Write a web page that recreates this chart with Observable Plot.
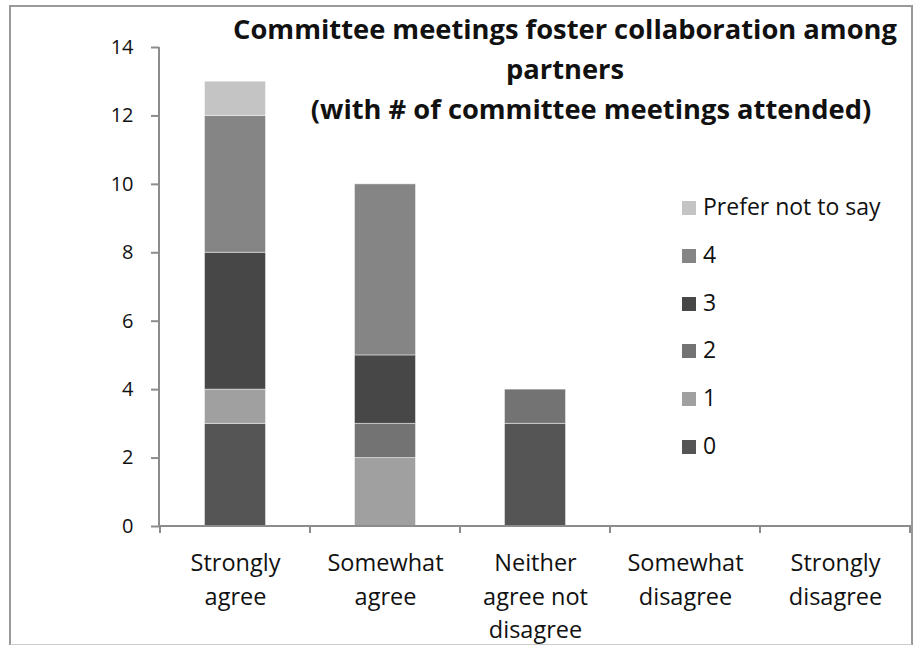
<!DOCTYPE html>
<html>
<head>
<meta charset="utf-8">
<script src="https://cdn.jsdelivr.net/npm/d3@7"></script>
<script src="https://cdn.jsdelivr.net/npm/@observablehq/plot@0.6"></script>
<style>
  html, body { margin: 0; padding: 0; background: #fff; }
  #wrap { position: relative; width: 916px; height: 645px; overflow: hidden; font-family: "Open Sans", sans-serif; }
  #frame { position: absolute; left: 9px; top: 5px; width: 900px; height: 637px; border: 2px solid #999; border-bottom-color: #ccc; box-sizing: content-box; pointer-events: none; }
  #title { position: absolute; left: 0; top: 9px; width: 916px; font-weight: bold; font-size: 27.3px; color: #111; line-height: 40px; }
  #title div { text-align: center; padding-left: 214px; white-space: nowrap; }
  #title div.l3 { padding-left: 266px; }
  #legend { position: absolute; left: 682px; top: 183px; font-size: 23px; color: #111; line-height: 47.8px; }
  .lg { white-space: nowrap; }
  .sw { display: inline-block; width: 14px; height: 14px; margin-right: 7px; vertical-align: baseline; }
  #chart { position: absolute; left: 0; top: 0; }
</style>
</head>
<body>
<div id="wrap">
  <div id="chart"></div>
  <div id="title"></div>
  <div id="legend"></div>
  <div id="frame"></div>
</div>
<script>
const categories = ["Strongly agree", "Somewhat agree", "Neither agree not disagree", "Somewhat disagree", "Strongly disagree"];
const categoryLabels = ["Strongly\nagree", "Somewhat\nagree", "Neither\nagree not\ndisagree", "Somewhat\ndisagree", "Strongly\ndisagree"];
const series = ["0", "1", "2", "3", "4", "Prefer not to say"];
const colors = ["#555555", "#a0a0a0", "#737373", "#474747", "#858585", "#c4c4c4"];
const values0 = [3, 0, 3, 0, 0];
const values1 = [1, 2, 0, 0, 0];
const values2 = [0, 1, 1, 0, 0];
const values3 = [4, 2, 0, 0, 0];
const values4 = [4, 5, 0, 0, 0];
const valuesPrefer = [1, 0, 0, 0, 0];
const yTicks = [0, 2, 4, 6, 8, 10, 12, 14];
const titleLines = ["Committee meetings foster collaboration among", "partners", "(with # of committee meetings attended)"];

const allValues = [values0, values1, values2, values3, values4, valuesPrefer];
const data = [];
series.forEach((s, i) => categories.forEach((c, j) => data.push({cat: c, series: s, value: allValues[i][j]})));

const axisGray = "#8c8c8c";

const bandTicks = (index, scales, values, dim) => {
  const g = d3.create("svg:g");
  const x = scales.x;
  const bw = x.bandwidth();
  const y0 = dim.height - dim.marginBottom;
  g.append("line").attr("x1", dim.marginLeft).attr("x2", dim.marginLeft)
    .attr("y1", dim.marginTop).attr("y2", y0).attr("stroke", axisGray).attr("stroke-width", 2);
  g.append("line").attr("x1", dim.marginLeft).attr("x2", dim.width - dim.marginRight)
    .attr("y1", y0).attr("y2", y0).attr("stroke", axisGray).attr("stroke-width", 2);
  const edges = categories.map(c => x(c)).concat([x(categories[categories.length - 1]) + bw]);
  edges.forEach(px => {
    g.append("line").attr("x1", px).attr("x2", px).attr("y1", y0).attr("y2", y0 + 7)
      .attr("stroke", axisGray).attr("stroke-width", 2);
  });
  return g.node();
};

const plot = Plot.plot({
  width: 916,
  height: 645,
  marginLeft: 159,
  marginRight: 5,
  marginTop: 47,
  marginBottom: 119,
  style: {fontFamily: "Open Sans, sans-serif", fontSize: "17px", color: "#111", background: "transparent"},
  x: {domain: categories, padding: 0, axis: null, label: null},
  y: {domain: [0, 14], axis: null, label: null},
  color: {domain: series, range: colors},
  marks: [
    Plot.barY(data, {x: "cat", y: "value", fill: "series", order: series, insetLeft: 44.5, insetRight: 44.5, stroke: "#ffffff", strokeOpacity: 0.45, strokeWidth: 1}),
    Plot.axisY({ticks: yTicks, tickSize: 8, tickPadding: 18, stroke: axisGray, strokeWidth: 2, fill: "#111", fontSize: 20, label: null}),
    Plot.axisX({tickSize: 0, tickPadding: 21, fontSize: 23.5, fill: "#111", lineHeight: 1.42, label: null, tickFormat: d => categoryLabels[categories.indexOf(d)]}),
    bandTicks
  ]
});
document.getElementById("chart").appendChild(plot);

const t = document.getElementById("title");
titleLines.forEach((l, i) => { const d = document.createElement("div"); d.textContent = l; if (i === 2) d.className = "l3"; t.appendChild(d); });

const lg = document.getElementById("legend");
series.slice().reverse().forEach(s => {
  const row = document.createElement("div"); row.className = "lg";
  const sw = document.createElement("span"); sw.className = "sw"; sw.style.background = colors[series.indexOf(s)];
  const tx = document.createElement("span"); tx.textContent = s;
  row.appendChild(sw); row.appendChild(tx); lg.appendChild(row);
});
</script>
</body>
</html>
